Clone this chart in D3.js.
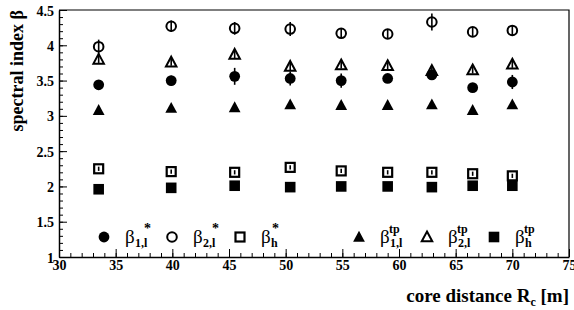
<!DOCTYPE html>
<html>
<head>
<meta charset="utf-8">
<script src="https://cdn.jsdelivr.net/npm/d3@7"></script>
<style>
  body { margin: 0; background: #fff; }
  svg { display: block; }
  text { font-family: "Liberation Serif", "DejaVu Serif", serif; }
</style>
</head>
<body>
<svg width="574" height="310"></svg>
<script>
// core distance R_c of each measurement
const rc = [33.5, 39.9, 45.5, 50.4, 54.9, 59.0, 62.9, 66.5, 70.0];

// spectral indices (value, error)
const b1Star = [3.44, 3.50, 3.56, 3.53, 3.50, 3.53, 3.58, 3.40, 3.48];
const b1StarErr = [0.04, 0.07, 0.12, 0.10, 0.10, 0.05, 0.05, 0.04, 0.10];
const b2Star = [3.98, 4.27, 4.24, 4.23, 4.17, 4.16, 4.33, 4.19, 4.21];
const b2StarErr = [0.10, 0.08, 0.09, 0.10, 0.07, 0.07, 0.12, 0.07, 0.07];
const bhStar = [2.25, 2.21, 2.20, 2.27, 2.22, 2.20, 2.20, 2.18, 2.15];
const bhStarErr = [0.03, 0.03, 0.03, 0.03, 0.03, 0.03, 0.03, 0.03, 0.03];
const b1Tp = [3.08, 3.11, 3.12, 3.16, 3.15, 3.15, 3.16, 3.08, 3.16];
const b1TpErr = [0.03, 0.03, 0.03, 0.03, 0.03, 0.03, 0.03, 0.03, 0.03];
const b2Tp = [3.80, 3.76, 3.87, 3.70, 3.72, 3.71, 3.64, 3.65, 3.73];
const b2TpErr = [0.05, 0.05, 0.05, 0.05, 0.05, 0.05, 0.05, 0.05, 0.05];
const bhTp = [1.96, 1.98, 2.01, 1.99, 2.00, 2.00, 1.99, 2.01, 2.01];
const bhTpErr = [0.02, 0.02, 0.02, 0.02, 0.02, 0.02, 0.02, 0.02, 0.02];

const xTicks = [30, 35, 40, 45, 50, 55, 60, 65, 70, 75];
const yTicks = [1, 1.5, 2, 2.5, 3, 3.5, 4, 4.5];

const series = [
  {vals: b1Star, errs: b1StarErr, shape: "circle", fill: true, sub: "1,l", sup: "*", lx: 104},
  {vals: b2Star, errs: b2StarErr, shape: "circle", fill: false, sub: "2,l", sup: "*", lx: 172},
  {vals: bhStar, errs: bhStarErr, shape: "square", fill: false, sub: "h", sup: "*", lx: 240},
  {vals: b1Tp, errs: b1TpErr, shape: "triangle", fill: true, sub: "1,l", sup: "tp", lx: 359},
  {vals: b2Tp, errs: b2TpErr, shape: "triangle", fill: false, sub: "2,l", sup: "tp", lx: 427},
  {vals: bhTp, errs: bhTpErr, shape: "square", fill: true, sub: "h", sup: "tp", lx: 494}
];

const mLeft = 59, mRight = 569, mTop = 10, mBottom = 257;
const x = d3.scaleLinear().domain([30, 75]).range([mLeft, mRight]);
const y = d3.scaleLinear().domain([1, 4.5]).range([mBottom, mTop]);

const svg = d3.select("svg");

// minor ticks
svg.append("g")
  .attr("transform", `translate(0,${mBottom})`)
  .call(d3.axisBottom(x).tickValues(d3.range(30, 76, 1)).tickSizeInner(-4).tickSizeOuter(0).tickFormat(""))
  .call(g => g.select(".domain").remove());
svg.append("g")
  .attr("transform", `translate(${mLeft},0)`)
  .call(d3.axisLeft(y).tickValues(d3.range(10, 46, 1).map(v => v / 10)).tickSizeInner(-4).tickSizeOuter(0).tickFormat(""))
  .call(g => g.select(".domain").remove());

// major ticks + labels
const xAxis = svg.append("g")
  .attr("transform", `translate(0,${mBottom})`)
  .call(d3.axisBottom(x).tickValues(xTicks).tickSizeInner(-8).tickSizeOuter(0).tickPadding(6).tickFormat(d3.format("d")));
const yAxis = svg.append("g")
  .attr("transform", `translate(${mLeft},0)`)
  .call(d3.axisLeft(y).tickValues(yTicks).tickSizeInner(-8).tickSizeOuter(0).tickPadding(5).tickFormat(d => d));

svg.selectAll(".tick line").attr("stroke", "#000").attr("stroke-width", 1);
svg.selectAll(".domain").attr("stroke", "#000").attr("stroke-width", 1.5);
svg.selectAll(".tick text")
  .attr("fill", "#000")
  .attr("font-family", "Liberation Serif")
  .style("font-family", "'Liberation Serif', serif")
  .style("font-weight", "bold")
  .style("font-size", "14px");
xAxis.selectAll(".tick text").attr("dy", "0.5em");
yAxis.selectAll(".tick text").attr("dy", "0.36em");

// frame top/right
svg.append("path")
  .attr("d", `M${mLeft},${mTop}H${mRight}V${mBottom}`)
  .attr("fill", "none").attr("stroke", "#000").attr("stroke-width", 1.2);

function marker(g, s, cx, cy, scale) {
  const k = scale || 1;
  if (s.shape === "circle") {
    const r = (s.fill ? 5.4 : 4.8) * k;
    g.append("circle").attr("cx", cx).attr("cy", cy).attr("r", r)
      .attr("fill", s.fill ? "#000" : "none").attr("stroke", "#000").attr("stroke-width", s.fill ? 0 : 2);
  } else if (s.shape === "square") {
    const h = (s.fill ? 5.3 : 4.5) * k;
    g.append("rect").attr("x", cx - h).attr("y", cy - h).attr("width", 2 * h).attr("height", 2 * h)
      .attr("fill", s.fill ? "#000" : "none").attr("stroke", "#000").attr("stroke-width", s.fill ? 0 : 2.2);
  } else {
    const h = (s.fill ? 5.6 : 5) * k;
    g.append("path")
      .attr("d", `M${cx},${cy - h * 1.1}L${cx + h * 1.05},${cy + h * 0.85}L${cx - h * 1.05},${cy + h * 0.85}Z`)
      .attr("fill", s.fill ? "#000" : "none").attr("stroke", "#000").attr("stroke-width", s.fill ? 0 : 2)
      .attr("stroke-linejoin", "miter");
  }
}

// data
const plot = svg.append("g");
series.forEach(s => {
  rc.forEach((r, i) => {
    const cx = x(r), v = s.vals[i], e = s.errs[i];
    plot.append("line")
      .attr("x1", cx).attr("x2", cx)
      .attr("y1", y(v - e)).attr("y2", y(v + e))
      .attr("stroke", "#000").attr("stroke-width", 1.6);
    marker(plot, s, cx, y(v));
  });
});

// legend
const leg = svg.append("g");
const ly = 237;
series.forEach(s => {
  marker(leg, s, s.lx, ly, 1.0);
  const tx = s.lx + 21;
  leg.append("text").attr("x", tx).attr("y", ly + 6)
    .style("font-size", "19px").text("β");
  leg.append("text").attr("x", tx + 10).attr("y", ly + 10)
    .style("font-size", "12px").style("font-weight", "bold").text(s.sub);
  const supX = s.sup === "*" ? (s.sub === "h" ? tx + 11 : tx + 19) : tx + 9;
  leg.append("text").attr("x", supX).attr("y", ly - 4)
    .style("font-size", s.sup === "*" ? "14px" : "12px").style("font-weight", "bold").text(s.sup);
});

// axis titles
const xt = svg.append("text")
  .attr("x", mRight).attr("y", 302)
  .attr("text-anchor", "end")
  .style("font-size", "19px").style("font-weight", "bold");
xt.append("tspan").text("core distance R");
xt.append("tspan").attr("dy", 4).style("font-size", "12px").text("c");
xt.append("tspan").attr("dy", -4).text(" [m]");

svg.append("text")
  .attr("transform", `translate(23,${mTop}) rotate(-90)`)
  .attr("text-anchor", "end")
  .style("font-size", "18px").style("font-weight", "bold")
  .text("spectral index β");
</script>
</body>
</html>
